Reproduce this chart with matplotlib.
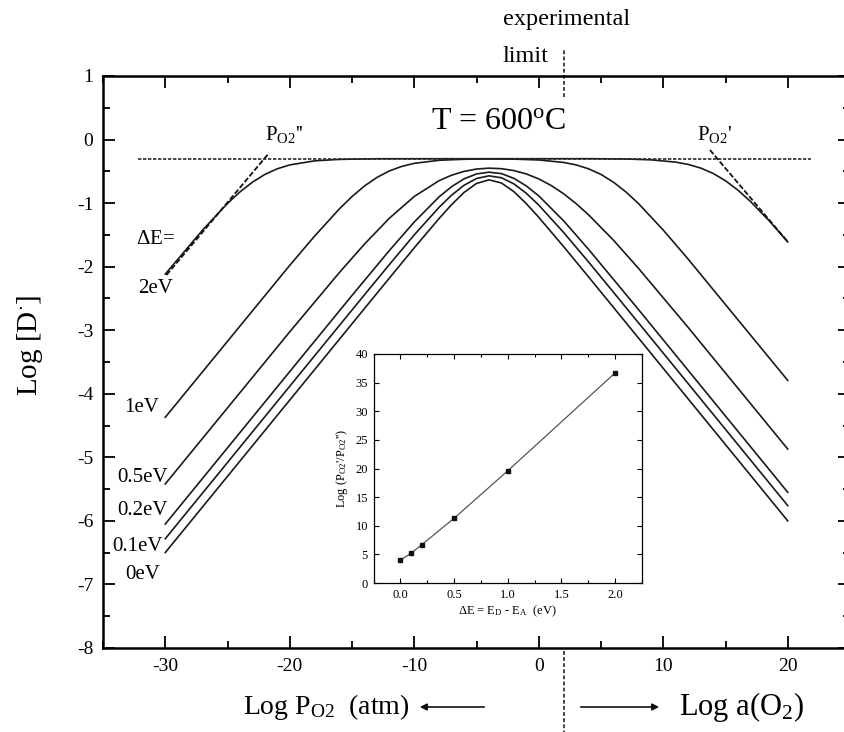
import matplotlib
matplotlib.use("Agg")
import matplotlib.pyplot as plt
from matplotlib.ticker import MultipleLocator

plt.rcParams['font.family'] = ['Liberation Serif', 'DejaVu Serif']
plt.rcParams['mathtext.fontset'] = 'custom'
plt.rcParams['mathtext.rm'] = 'Liberation Serif'
plt.rcParams['mathtext.it'] = 'Liberation Serif:italic'
plt.rcParams['axes.unicode_minus'] = False

# ---- main curves: Log[D] vs Log P_O2 for several dE values ----
x_2eV = [-30, -27, -25, -24, -23, -22, -21, -20, -18, -16, -13, 4, 7, 9, 11, 12, 13, 14, 15, 16, 17, 18.5, 20]
y_2eV = [-2.117, -1.424, -1.005, -0.824, -0.671, -0.549, -0.460, -0.399, -0.335, -0.312, -0.302, -0.301,
         -0.306, -0.319, -0.355, -0.391, -0.448, -0.532, -0.648, -0.796, -0.973, -1.277, -1.611]

x_1eV = [-30, -20, -18, -16, -15, -14, -13, -12, -11, -10, -8, -6, -4, -2, 0, 2, 3, 4, 5, 6, 7, 8, 10, 12, 20]
y_1eV = [-4.370, -1.979, -1.518, -1.088, -0.897, -0.731, -0.596, -0.494, -0.422, -0.374, -0.326, -0.310,
         -0.305, -0.308, -0.321, -0.360, -0.399, -0.460, -0.549, -0.671, -0.824, -1.005, -1.424, -1.881, -3.790]

x_05eV = [-30, -20, -16, -14, -12, -10, -8, -7, -6, -5, -4, -3, -2, -1, 0, 1, 2, 3, 4, 6, 8, 12, 20]
y_05eV = [-5.419, -3.025, -2.089, -1.645, -1.238, -0.896, -0.646, -0.561, -0.501, -0.464, -0.450, -0.458,
          -0.488, -0.541, -0.619, -0.723, -0.853, -1.008, -1.184, -1.583, -2.024, -2.956, -4.870]

x_02eV = [-30, -20, -15, -12, -10, -8, -7, -6, -5, -4, -3, -2, -1, 0, 2, 4, 8, 20]
y_02eV = [-6.050, -3.651, -2.453, -1.746, -1.297, -0.901, -0.741, -0.618, -0.541, -0.513, -0.536,
          -0.610, -0.729, -0.886, -1.279, -1.727, -2.672, -5.550]

x_01eV = [-30, -20, -14, -12, -10, -8, -7, -6, -5, -4, -3, -2, -1, 0, 2, 4, 6, 10, 20]
y_01eV = [-6.281, -3.881, -2.443, -1.967, -1.500, -1.065, -0.875, -0.719, -0.613, -0.571, -0.601,
          -0.697, -0.845, -1.031, -1.462, -1.926, -2.402, -3.360, -5.760]

x_0eV = [-30, -20, -14, -12, -10, -8, -7, -6, -5, -4, -3, -2, -1, 0, 2, 4, 6, 20]
y_0eV = [-6.499, -4.099, -2.659, -2.180, -1.704, -1.241, -1.024, -0.832, -0.691, -0.634, -0.683,
         -0.819, -1.008, -1.223, -1.685, -2.161, -2.640, -6.000]

curves = [(x_2eV, y_2eV), (x_1eV, y_1eV), (x_05eV, y_05eV),
          (x_02eV, y_02eV), (x_01eV, y_01eV), (x_0eV, y_0eV)]
curve_labels = ["2eV", "1eV", "0.5eV", "0.2eV", "0.1eV", "0eV"]

# plateau and tangent (asymptote) lines
plateau_x = [-32.2, 21.9]
plateau_y = [-0.3, -0.3]
tanL_x = [-29.9, -21.66]
tanL_y = [-2.131, -0.211]
tanR_x = [13.75, 20.02]
tanR_y = [-0.164, -1.612]
exp_limit_x = 2.0

# ---- inset data ----
dE = [0.0, 0.1, 0.2, 0.5, 1.0, 2.0]
logratio = [4.0, 5.2, 6.7, 11.3, 19.6, 36.7]

W, H = 844, 732
fig = plt.figure(figsize=(W / 100, H / 100), dpi=100)
ax = fig.add_axes([103 / W, 1 - 648 / H, (850 - 103) / W, (648 - 76) / H])

lc = '#1a1a1a'
for (xs, ys) in curves:
    ax.plot(xs, ys, color=lc, lw=1.2, solid_joinstyle='round')

ax.plot(plateau_x, plateau_y, color='#2a2a2a', lw=1.2, dashes=(2.0, 1.0))
ax.plot(tanL_x, tanL_y, color='#111111', lw=1.3, dashes=(3, 1.2))
ax.plot(tanR_x, tanR_y, color='#111111', lw=1.3, dashes=(3, 1.2))

ax.set_xlim(-35, 25)
ax.set_ylim(-8, 1)
ax.xaxis.set_major_locator(MultipleLocator(10))
ax.xaxis.set_minor_locator(MultipleLocator(5))
ax.yaxis.set_major_locator(MultipleLocator(1))
ax.yaxis.set_minor_locator(MultipleLocator(0.5))
ax.tick_params(which='both', direction='in', top=True, right=True, labelsize=14, width=1.3)
ax.tick_params(which='major', length=8.5, pad=7)
ax.tick_params(which='minor', length=5)
for sp in ax.spines.values():
    sp.set_linewidth(1.8)
ax.set_xticks([-30, -20, -10, 0, 10, 20])
ax.set_xticklabels(['-30', '-20', '-10', '0', '10', '20'])

# labels on the curves
ax.text(-30.8, -1.58, r"$\Delta$E=", fontsize=15, ha='center', va='center')
label_pos = [(-30.8, -2.35), (-31.9, -4.22), (-31.8, -5.32), (-31.8, -5.84), (-32.2, -6.41), (-31.8, -6.84)]
for lab, (lx, ly) in zip(curve_labels, label_pos):
    ax.text(lx, ly, lab, fontsize=15, ha='center', va='center')

ax.text(-3.2, 0.29, r"T = 600$^{\rm o}$C", fontsize=23, ha='center', va='center')
ax.text(-22.0, -0.01, r"P$_{\rm O2}$''", fontsize=15, ha='left', va='baseline')
ax.text(12.7, -0.01, r"P$_{\rm O2}$'", fontsize=15, ha='left', va='baseline')

# experimental limit dashed vertical line (outside the frame)
trans = ax.get_xaxis_transform()
ax.plot([exp_limit_x, exp_limit_x], [0.963, 1.046], transform=trans, clip_on=False,
        color='#111111', lw=1.1, dashes=(2.5, 1.5))
ax.plot([exp_limit_x, exp_limit_x], [-0.005, -0.15], transform=trans, clip_on=False,
        color='#111111', lw=1.1, dashes=(2.5, 1.5))
fig.text(503 / W, 1 - 20 / H, "experimental", fontsize=17.5, ha='left', va='center')
fig.text(503 / W, 1 - 56 / H, "limit", fontsize=17.5, ha='left', va='center')

# y label
fig.text(30 / W, 1 - 345 / H, r"Log [D$^{\cdot}$]", fontsize=21, rotation=90, ha='center', va='center')

# bottom axis labels with arrows
yb = 1 - 707 / H
fig.text(243 / W, yb, r"Log P$_{\rm O2}$  (atm)", fontsize=20, ha='left', va='center')
fig.text(679 / W, yb, r"Log a(O$_2$)", fontsize=22, ha='left', va='center')
fig.add_artist(matplotlib.patches.FancyArrowPatch((487 / W, yb), (417 / W, yb), transform=fig.transFigure,
                                                  arrowstyle='-|>', mutation_scale=10, color='#111111', lw=1.2))
fig.add_artist(matplotlib.patches.FancyArrowPatch((578 / W, yb), (662 / W, yb), transform=fig.transFigure,
                                                  arrowstyle='-|>', mutation_scale=10, color='#111111', lw=1.2))

# ---- inset ----
axi = fig.add_axes([373.5 / W, 1 - 583 / H, (642 - 373.5) / W, (583 - 354) / H])
axi.plot(dE, logratio, color='#555555', lw=0.9, marker='s', markersize=3.2,
         markerfacecolor='#111111', markeredgecolor='#111111')
axi.set_xlim(-0.25, 2.25)
axi.set_ylim(0, 40)
axi.xaxis.set_major_locator(MultipleLocator(0.5))
axi.xaxis.set_minor_locator(MultipleLocator(0.25))
axi.yaxis.set_major_locator(MultipleLocator(5))
axi.tick_params(which='both', direction='in', top=True, right=True, labelsize=9, width=0.8, pad=4)
axi.tick_params(which='major', length=3.5)
axi.tick_params(which='minor', length=2)
for sp in axi.spines.values():
    sp.set_linewidth(0.9)
axi.set_xticks([0.0, 0.5, 1.0, 1.5, 2.0])
axi.set_xticklabels(['0.0', '0.5', '1.0', '1.5', '2.0'])
axi.set_xlabel(r"$\Delta$E = E$_{\rm D}$ - E$_{\rm A}$  (eV)", fontsize=9, labelpad=2)
axi.set_ylabel(r"Log (P$_{\rm O2}$'/P$_{\rm O2}$'')", fontsize=9, labelpad=4)

fig.savefig("out.png", dpi=100)
